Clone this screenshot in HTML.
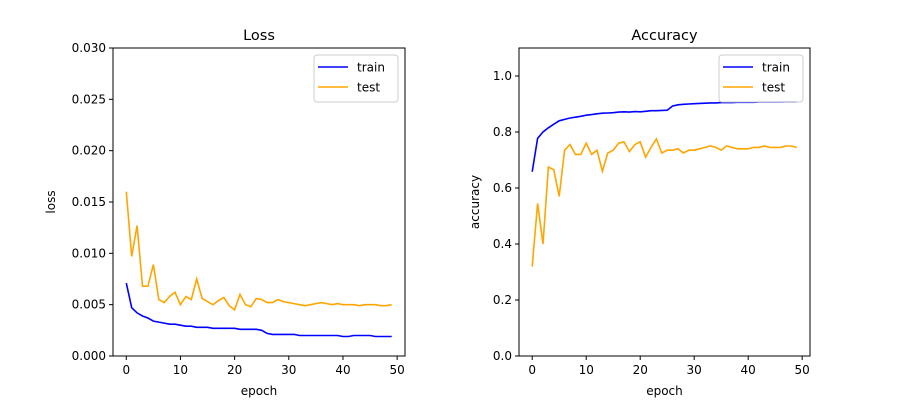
<!DOCTYPE html>
<html><head><meta charset="utf-8"><style>
body{margin:0;background:#fff;}
svg{display:block;font-family:"DejaVu Sans","Liberation Sans",sans-serif;}
</style></head><body>
<svg id="c" width="900" height="400" xmlns="http://www.w3.org/2000/svg"></svg>
<script>
const epochs = Array.from({length:50},(_,i)=>i);
const lossTrain = [0.0071,0.0047,0.0042,0.0039,0.0037,0.0034,0.0033,0.0032,0.0031,0.0031,0.0030,0.0029,0.0029,0.0028,0.0028,0.0028,0.0027,0.0027,0.0027,0.0027,0.0027,0.0026,0.0026,0.0026,0.0026,0.0025,0.0022,0.0021,0.0021,0.0021,0.0021,0.0021,0.0020,0.0020,0.0020,0.0020,0.0020,0.0020,0.0020,0.0020,0.0019,0.0019,0.0020,0.0020,0.0020,0.0020,0.0019,0.0019,0.0019,0.0019];
const lossTest = [0.0160,0.0097,0.0127,0.0068,0.0068,0.0089,0.0055,0.0052,0.0058,0.0062,0.0050,0.0058,0.0055,0.0075,0.0056,0.0053,0.0050,0.0054,0.0057,0.0049,0.0045,0.0060,0.0050,0.0048,0.0056,0.0055,0.0052,0.0052,0.0055,0.0053,0.0052,0.0051,0.0050,0.0049,0.0050,0.0051,0.0052,0.0051,0.0050,0.0051,0.0050,0.0050,0.0050,0.0049,0.0050,0.0050,0.0050,0.0049,0.0049,0.0050];
const accTrain = [0.658,0.777,0.800,0.815,0.828,0.840,0.845,0.850,0.853,0.856,0.860,0.862,0.865,0.867,0.868,0.869,0.871,0.872,0.871,0.873,0.872,0.874,0.876,0.876,0.877,0.878,0.893,0.897,0.899,0.900,0.901,0.902,0.903,0.904,0.904,0.905,0.905,0.905,0.906,0.906,0.906,0.906,0.907,0.907,0.907,0.907,0.907,0.908,0.908,0.908];
const accTest = [0.32,0.545,0.40,0.675,0.665,0.57,0.735,0.755,0.72,0.72,0.76,0.72,0.735,0.66,0.725,0.735,0.76,0.765,0.73,0.755,0.765,0.71,0.745,0.775,0.725,0.735,0.735,0.74,0.725,0.735,0.735,0.74,0.745,0.75,0.745,0.735,0.75,0.745,0.74,0.74,0.74,0.745,0.745,0.75,0.745,0.745,0.745,0.75,0.75,0.745];
const xTicks = [0,10,20,30,40,50];
const lossTicks = [0,0.005,0.010,0.015,0.020,0.025,0.030];
const lossTickLabels = ["0.000","0.005","0.010","0.015","0.020","0.025","0.030"];
const accTicks = [0,0.2,0.4,0.6,0.8,1.0];
const accTickLabels = ["0.0","0.2","0.4","0.6","0.8","1.0"];

const svg=document.getElementById('c');
const NS="http://www.w3.org/2000/svg";
function mk(tag,attrs,parent,text){const e=document.createElementNS(NS,tag);for(const k in attrs)e.setAttribute(k,attrs[k]);if(text!==undefined)e.textContent=text;(parent||svg).appendChild(e);return e;}

function panel(o){
  const g=mk('g',{});
  
  
  const xs=v=>o.x0+(v+2.45)/(49+4.9)*(o.x1-o.x0);
  const ys=v=>o.y1-(v-o.ymin)/(o.ymax-o.ymin)*(o.y1-o.y0);
  const frame=mk('rect',{x:o.x0,y:o.y0,width:o.x1-o.x0,height:o.y1-o.y0,fill:'none',stroke:'#000','stroke-width':1},g);
  
  
  xTicks.forEach(t=>{const x=xs(t);mk('line',{x1:x,x2:x,y1:o.y1,y2:o.y1+4,stroke:'#000'},g);
    const tl=mk('text',{x:x,y:o.y1+18,'font-size':12,'text-anchor':'middle'},g,String(t));
    
    });
  o.yt.forEach((t,i)=>{const y=ys(t);mk('line',{x1:o.x0-4,x2:o.x0,y1:y,y2:y,stroke:'#000'},g);
    const tl=mk('text',{x:o.x0-7,y:y+4,'font-size':12,'text-anchor':'end'},g,o.yl[i]);
    
    });
  const t=mk('text',{x:(o.x0+o.x1)/2,y:o.y0-8,'font-size':14.5,'text-anchor':'middle'},g,o.title);
  
  
  const xl=mk('text',{x:(o.x0+o.x1)/2,y:395,'font-size':12,'text-anchor':'middle'},g,'epoch');
  
  
  const yx=o.ylx;const yy=(o.y0+o.y1)/2;
  const yl=mk('text',{x:yx,y:yy,'font-size':12,'text-anchor':'middle',transform:`rotate(-90 ${yx} ${yy})`},g,o.ylabel);
  
  
  [[o.train,'#0000ff','train-line'],[o.test,'#ffa500','test-line']].forEach(([d,c,n])=>{
    const p=mk('polyline',{points:d.map((v,i)=>xs(epochs[i]).toFixed(1)+','+ys(v).toFixed(1)).join(' '),fill:'none',stroke:c,'stroke-width':1.6},g);
    
    
  });
  const lg=mk('g',{},g);
  
  
  const lx=o.x1-91;
  mk('rect',{x:lx,y:o.y0+7,width:84,height:47,rx:3,fill:'#fff',stroke:'#ccc','fill-opacity':0.8},lg);
  [['train','#0000ff',19],['test','#ffa500',39]].forEach(([n,c,dy])=>{
    const e=mk('g',{},lg);
    
    
    mk('line',{x1:lx+4,x2:lx+34,y1:o.y0+dy,y2:o.y0+dy,stroke:c,'stroke-width':1.6},e);
    mk('text',{x:lx+43,y:o.y0+dy+4.5,'font-size':12},e,n);
  });
}
panel({name:'loss-chart',x0:113,x1:405,y0:48,y1:356,ymin:0,ymax:0.03,yt:lossTicks,yl:lossTickLabels,title:'Loss',ylabel:'loss',ylx:55,train:lossTrain,test:lossTest});
panel({name:'accuracy-chart',x0:519,x1:810,y0:48,y1:356,ymin:0,ymax:1.1,yt:accTicks,yl:accTickLabels,title:'Accuracy',ylabel:'accuracy',ylx:479,train:accTrain,test:accTest});
</script>
</body></html>
